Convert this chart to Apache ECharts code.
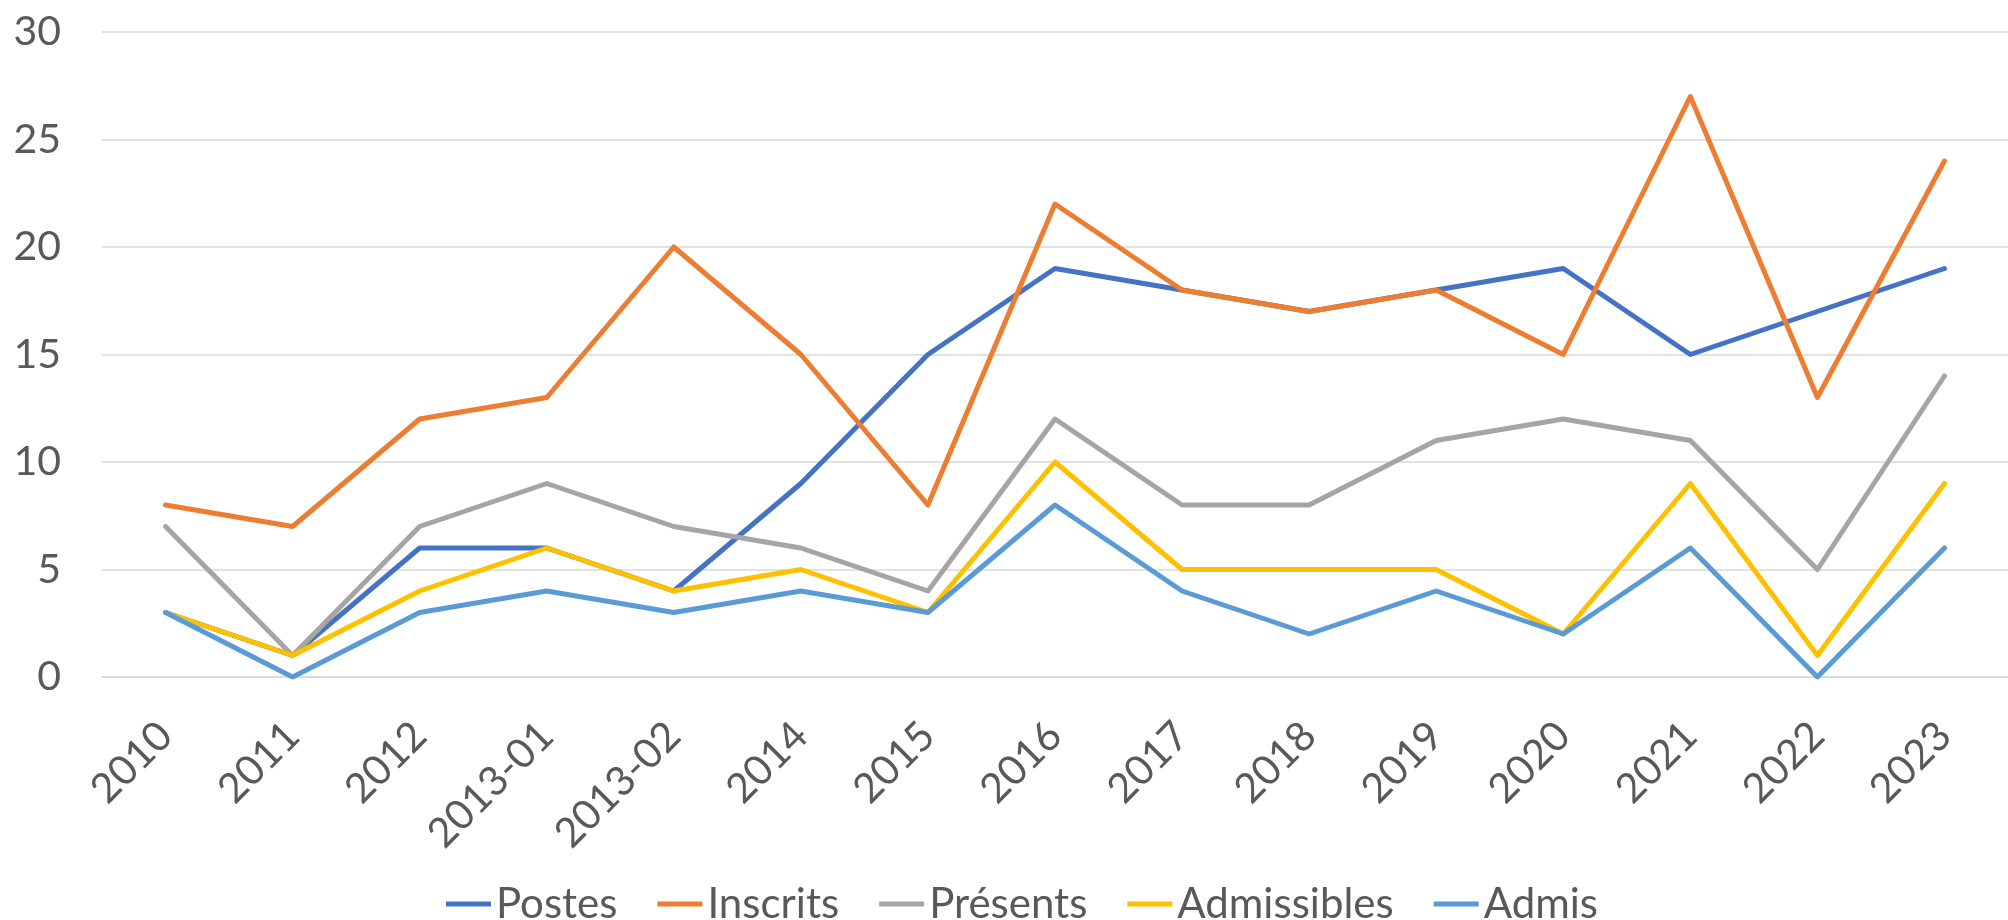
<!DOCTYPE html>
<html>
<head>
<meta charset="utf-8">
<script src="https://cdn.jsdelivr.net/npm/echarts@6/dist/echarts.min.js"></script>
<style>
  html, body { margin: 0; padding: 0; background: #fff; }
  #chart { width: 2008px; height: 920px; }
</style>
</head>
<body>
<div id="chart"></div>
<script>
// categories (x axis)
const years = ['2010', '2011', '2012', '2013-01', '2013-02', '2014', '2015', '2016',
  '2017', '2018', '2019', '2020', '2021', '2022', '2023']

// series values
const postes = [3, 1, 6, 6, 4, 9, 15, 19, 18, 17, 18, 19, 15, 17, 19]
const inscrits = [8, 7, 12, 13, 20, 15, 8, 22, 18, 17, 18, 15, 27, 13, 24]
const presents = [7, 1, 7, 9, 7, 6, 4, 12, 8, 8, 11, 12, 11, 5, 14]
const admissibles = [3, 1, 4, 6, 4, 5, 3, 10, 5, 5, 5, 2, 9, 1, 9]
const admis = [3, 0, 3, 4, 3, 4, 3, 8, 4, 2, 4, 2, 6, 0, 6]

const seriesNames = ['Postes', 'Inscrits', 'Présents', 'Admissibles', 'Admis']
const seriesData = [postes, inscrits, presents, admissibles, admis]
const colors = ['#4472C4', '#ED7D31', '#A5A5A5', '#FFC000', '#5B9BD5']

const chart = echarts.init(document.getElementById('chart'))

const fontFamily = 'Lato, "Open Sans", sans-serif'

const option = {
  animation: false,
  color: colors,
  textStyle: { fontFamily: fontFamily },
  grid: {
    left: 102,
    top: 32,
    width: 1917,
    height: 645
  },
  legend: {
    data: seriesNames,
    left: 441,
    top: 878,
    icon: 'rect',
    itemWidth: 45,
    itemHeight: 5,
    itemGap: 40,
    textStyle: {
      color: '#595959',
      fontSize: 42,
      fontFamily: fontFamily
    }
  },
  xAxis: {
    type: 'category',
    data: years,
    boundaryGap: true,
    axisLine: { show: true, lineStyle: { color: '#D9D9D9', width: 1.5 } },
    axisTick: { show: false },
    axisLabel: {
      rotate: 45,
      margin: 52,
      color: '#595959',
      fontSize: 41,
      fontFamily: fontFamily,
      interval: 0
    }
  },
  yAxis: {
    type: 'value',
    min: 0,
    max: 30,
    interval: 5,
    axisLine: { show: false },
    axisTick: { show: false },
    splitLine: { lineStyle: { color: '#D9D9D9', width: 1.5 } },
    axisLabel: {
      margin: 41,
      color: '#595959',
      fontSize: 41,
      fontFamily: fontFamily
    }
  },
  series: seriesNames.map((name, i) => {
    return {
      name: name,
      type: 'line',
      data: seriesData[i],
      symbol: 'none',
      lineStyle: {
        width: 5,
        color: colors[i],
        cap: 'round',
        join: 'round'
      },
      itemStyle: { color: colors[i] }
    }
  })
}

chart.setOption(option)
</script>
</body>
</html>
